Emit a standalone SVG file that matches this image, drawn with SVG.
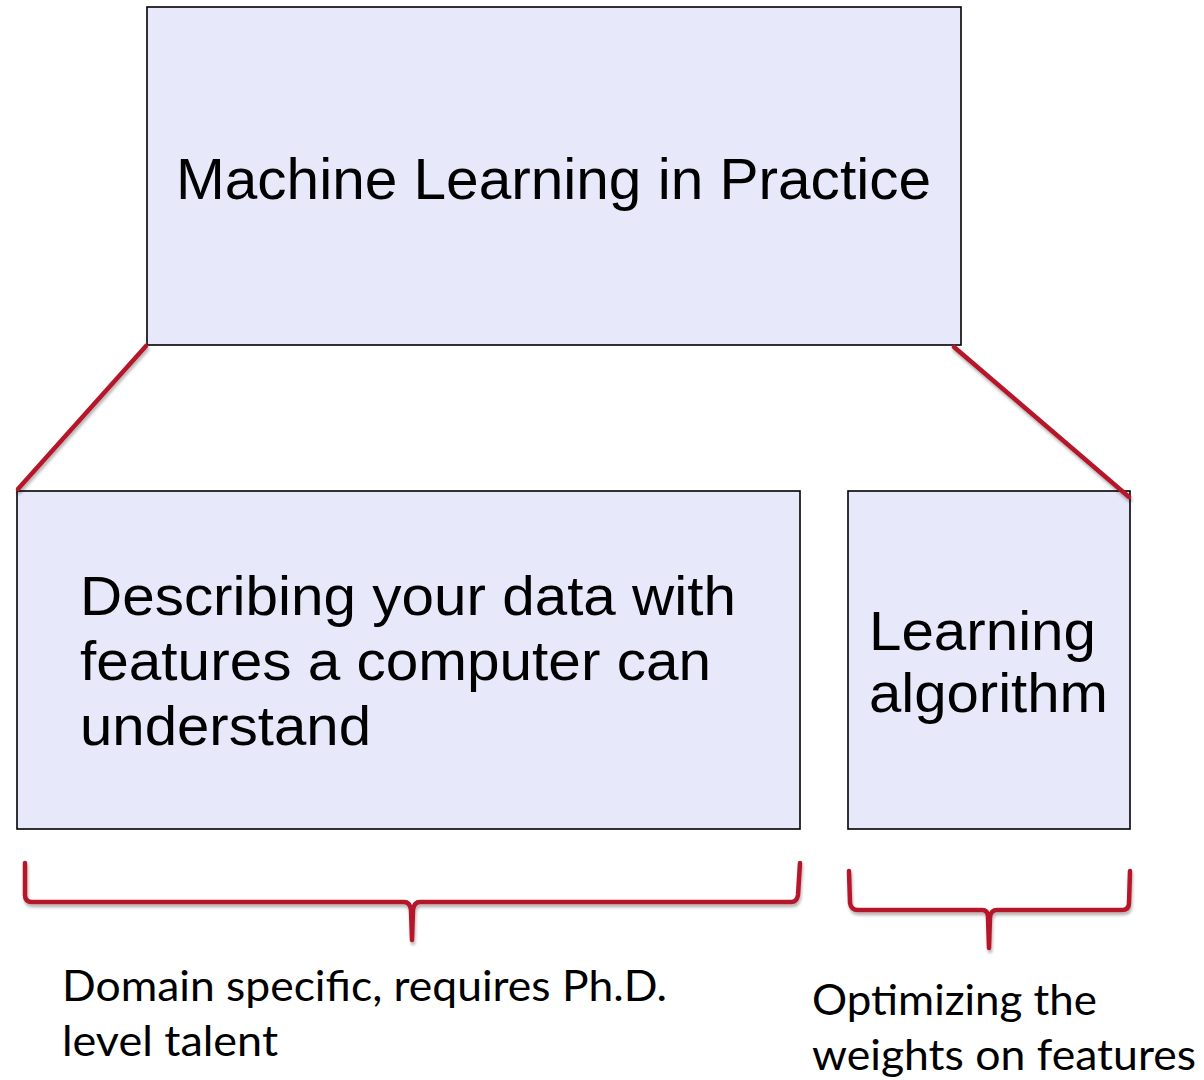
<svg xmlns="http://www.w3.org/2000/svg" width="1204" height="1080" viewBox="0 0 1204 1080">
<style>
.box{fill:#e8e8fb;stroke:#000;stroke-width:1.6}
.big{font-family:"Liberation Sans",Arial,sans-serif;fill:#000}
.red{fill:none;stroke:#b5192a;stroke-width:4.5;stroke-linecap:round;stroke-linejoin:round}
.small{font-family:Lato,"Open Sans",sans-serif;font-size:43px;fill:#000}
</style>
<defs>
<filter id="sh" x="-5%" y="-20%" width="110%" height="140%">
<feGaussianBlur in="SourceAlpha" stdDeviation="1.5"/>
<feOffset dx="1" dy="3" result="b"/>
<feComponentTransfer><feFuncA type="linear" slope="0.3"/></feComponentTransfer>
<feMerge><feMergeNode/><feMergeNode in="SourceGraphic"/></feMerge>
</filter>
</defs>
<rect width="1204" height="1080" fill="#fff"/>
<g id="top">
<rect class="box" x="147" y="7" width="814" height="338"/>
<text class="big" x="176" y="199" font-size="58" textLength="755" lengthAdjust="spacingAndGlyphs">Machine Learning in Practice</text>
</g>
<g id="features">
<rect class="box" x="17" y="491" width="783" height="338"/>
<text class="big" x="80" y="615" font-size="56" textLength="656" lengthAdjust="spacingAndGlyphs">Describing your data with</text>
<text class="big" x="80" y="680" font-size="56" textLength="631" lengthAdjust="spacingAndGlyphs">features a computer can</text>
<text class="big" x="80" y="745" font-size="56" textLength="291" lengthAdjust="spacingAndGlyphs">understand</text>
</g>
<g id="algorithm">
<rect class="box" x="848" y="491" width="282" height="338"/>
<text class="big" x="869" y="650" font-size="56" textLength="227" lengthAdjust="spacingAndGlyphs">Learning</text>
<text class="big" x="869" y="712" font-size="56" textLength="239" lengthAdjust="spacingAndGlyphs">algorithm</text>
</g>
<g id="connectors" filter="url(#sh)">
<line class="red" x1="146" y1="346" x2="18" y2="489"/>
<line class="red" x1="954" y1="347" x2="1129" y2="497"/>
<path class="red" d="M25,863 V895 Q25,902 32,902 H404 Q410,902 411,910 L412,940 M412,940 L413,910 Q414,902 420,902 H791 Q797,902 798,895 L800,863"/>
<path class="red" d="M849,871 L850,903 Q851,910 858,910 H982 Q988,910 988,917 L989,948 M989,948 L990,917 Q991,910 997,910 H1122 Q1129,910 1129,903 L1130,871"/>
</g>
<g id="labels">
<text class="small" x="62" y="1001" textLength="605" lengthAdjust="spacingAndGlyphs">Domain specific, requires Ph.D.</text>
<text class="small" x="62" y="1056" textLength="216" lengthAdjust="spacingAndGlyphs">level talent</text>
<text class="small" x="812" y="1015" textLength="285" lengthAdjust="spacingAndGlyphs">Optimizing the</text>
<text class="small" x="812" y="1070" textLength="384" lengthAdjust="spacingAndGlyphs">weights on features</text>
</g>
</svg>
